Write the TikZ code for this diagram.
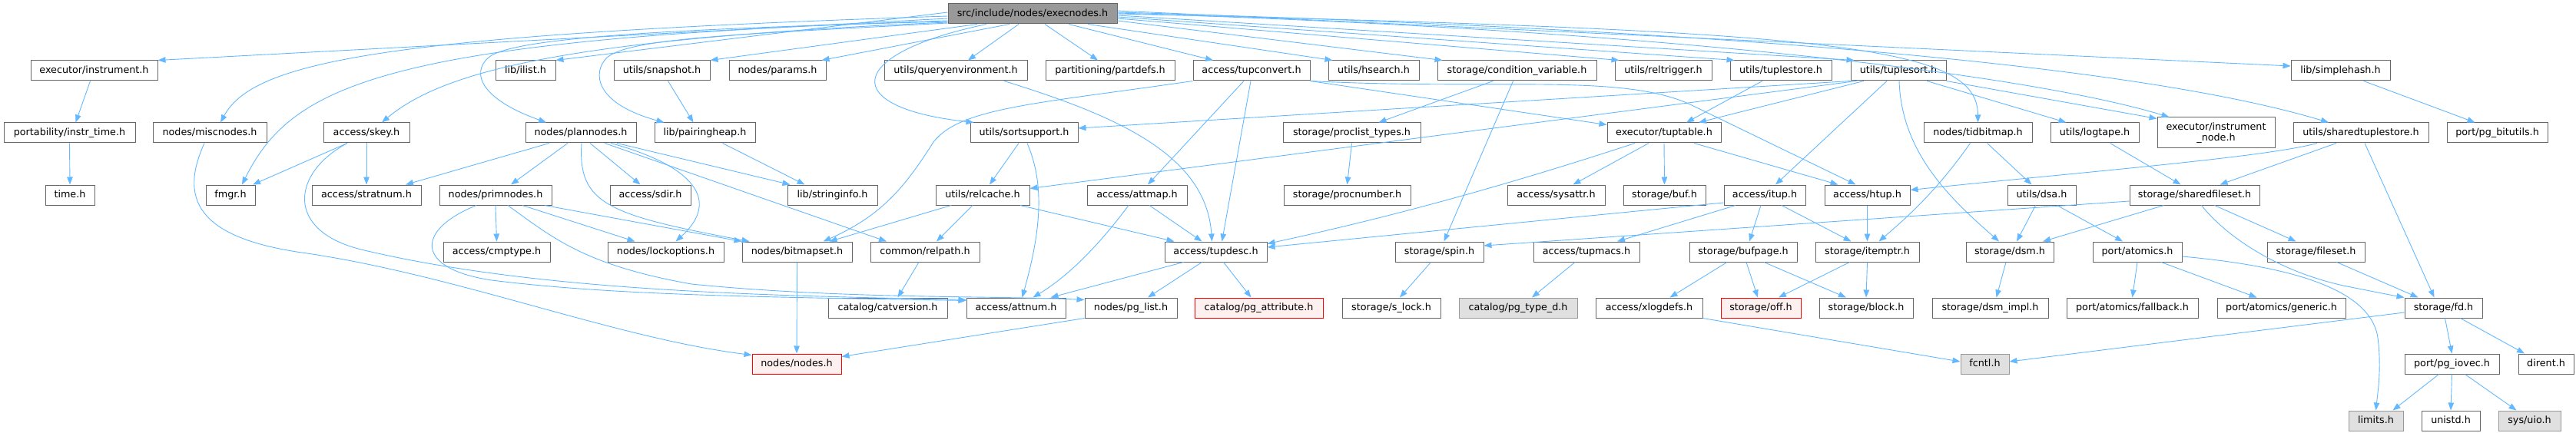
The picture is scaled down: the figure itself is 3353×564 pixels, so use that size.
\documentclass[tikz,border=0pt]{standalone}
\usepackage{fontspec}
\setmainfont{DejaVu Sans}
\usetikzlibrary{arrows.meta}
\definecolor{edgec}{HTML}{63B8FF}
\definecolor{bordc}{HTML}{666666}
\definecolor{grayb}{HTML}{999999}
\definecolor{grayf}{HTML}{E0E0E0}
\definecolor{redf}{HTML}{FFF0F0}
\definecolor{topf}{HTML}{999999}
\newcommand\nfs{\fontsize{12.75}{14.5}\selectfont}
\begin{document}
\begin{tikzpicture}[x=1pt,y=-1pt,
 nb/.style={draw=bordc, fill=white, line width=1pt, inner sep=0pt, font=\nfs},
 box/.style={nb, minimum height=26pt, text height=9.5pt, text depth=2.5pt},
 redbox/.style={box, draw=red, fill=redf},
 graybox/.style={box, draw=grayb, fill=grayf},
 topbox/.style={box, fill=topf},
 dep/.style={draw=edgec, line width=0.9pt, -{Triangle[length=10pt,width=7.5pt]}}
]
\useasboundingbox (0,0) rectangle (3353,564);
% row 0
\node[topbox, minimum width=220pt] (top) at (1344,18) {src/include/nodes/execnodes.h};
% row 1
\node[box, minimum width=165pt] (instr) at (122.5,92) {executor/instrument.h};
\node[box, minimum width=78pt] (ilist) at (684,92) {lib/ilist.h};
\node[box, minimum width=125pt] (snapshot) at (861.5,92) {utils/snapshot.h};
\node[box, minimum width=126pt] (params) at (1012,92) {nodes/params.h};
\node[box, minimum width=186pt] (queryenv) at (1244,92) {utils/queryenvironment.h};
\node[box, minimum width=168pt] (partdefs) at (1445,92) {partitioning/partdefs.h};
\node[box, minimum width=152pt] (tupconvert) at (1629,92) {access/tupconvert.h};
\node[box, minimum width=118pt] (hsearch) at (1788,92) {utils/hsearch.h};
\node[box, minimum width=207pt] (condvar) at (1974.5,92) {storage/condition\_variable.h};
\node[box, minimum width=126pt] (reltrigger) at (2165,92) {utils/reltrigger.h};
\node[box, minimum width=132pt] (tuplestore) at (2318,92) {utils/tuplestore.h};
\node[box, minimum width=124pt] (tuplesort) at (2471,92) {utils/tuplesort.h};
\node[box, minimum width=129pt] (simplehash) at (3046.5,92) {lib/simplehash.h};
% row 2
\node[box, minimum width=171pt] (instrtime) at (90.5,173) {portability/instr\_time.h};
\node[box, minimum width=148pt] (miscnodes) at (273,173) {nodes/miscnodes.h};
\node[box, minimum width=112pt] (skey) at (477,173) {access/skey.h};
\node[box, minimum width=144pt] (plannodes) at (756,173) {nodes/plannodes.h};
\node[box, minimum width=131pt] (pairingheap) at (917.5,173) {lib/pairingheap.h};
\node[box, minimum width=140pt] (sortsupport) at (1333,173) {utils/sortsupport.h};
\node[box, minimum width=179pt] (proclist) at (1759.5,173) {storage/proclist\_types.h};
\node[box, minimum width=148pt] (tuptable) at (2166,173) {executor/tuptable.h};
\node[box, minimum width=141pt] (tidbitmap) at (2574.5,173) {nodes/tidbitmap.h};
\node[box, minimum width=115pt] (logtape) at (2726.5,173) {utils/logtape.h};
\node[nb, minimum width=153pt, minimum height=40pt, align=center] (instrnode) at (2884.5,173) {executor/instrument\\\_node.h};
\node[box, minimum width=176pt] (sharedts) at (3073,173) {utils/sharedtuplestore.h};
\node[box, minimum width=131pt] (bitutils) at (3250.5,173) {port/pg\_bitutils.h};
% row 3
\node[box, minimum width=64pt] (timeh) at (91,254) {time.h};
\node[box, minimum width=64pt] (fmgr) at (300,254) {fmgr.h};
\node[box, minimum width=142pt] (stratnum) at (477,254) {access/stratnum.h};
\node[box, minimum width=146pt] (primnodes) at (645,254) {nodes/primnodes.h};
\node[box, minimum width=105pt] (sdir) at (846.5,254) {access/sdir.h};
\node[box, minimum width=117pt] (stringinfo) at (1083.5,254) {lib/stringinfo.h};
\node[box, minimum width=122pt] (relcache) at (1279,254) {utils/relcache.h};
\node[box, minimum width=130pt] (attmap) at (1480,254) {access/attmap.h};
\node[box, minimum width=165pt] (procnumber) at (1753.5,254) {storage/procnumber.h};
\node[box, minimum width=127pt] (sysattr) at (2025.5,254) {access/sysattr.h};
\node[box, minimum width=107pt] (buf) at (2166.5,254) {storage/buf.h};
\node[box, minimum width=106pt] (itup) at (2297,254) {access/itup.h};
\node[box, minimum width=111pt] (htup) at (2430.5,254) {access/htup.h};
\node[box, minimum width=89pt] (dsa) at (2657.5,254) {utils/dsa.h};
\node[box, minimum width=169pt] (sharedfs) at (2856.5,254) {storage/sharedfileset.h};
% row 4
\node[box, minimum width=139pt] (cmptype) at (646.5,328) {access/cmptype.h};
\node[box, minimum width=151pt] (lockopt) at (866.5,328) {nodes/lockoptions.h};
\node[box, minimum width=143pt] (bitmapset) at (1037.5,328) {nodes/bitmapset.h};
\node[box, minimum width=142pt] (relpath) at (1204,328) {common/relpath.h};
\node[box, minimum width=133pt] (tupdesc) at (1582.5,328) {access/tupdesc.h};
\node[box, minimum width=115pt] (spin) at (1873.5,328) {storage/spin.h};
\node[box, minimum width=138pt] (tupmacs) at (2065,328) {access/tupmacs.h};
\node[box, minimum width=140pt] (bufpage) at (2269,328) {storage/bufpage.h};
\node[box, minimum width=135pt] (itemptr) at (2430.5,328) {storage/itemptr.h};
\node[box, minimum width=114pt] (dsm) at (2616,328) {storage/dsm.h};
\node[box, minimum width=116pt] (atomics) at (2782,328) {port/atomics.h};
\node[box, minimum width=127pt] (fileset) at (3014.5,328) {storage/fileset.h};
% row 5
\node[box, minimum width=155pt] (catversion) at (1155.5,401) {catalog/catversion.h};
\node[box, minimum width=129pt] (attnum) at (1322.5,401) {access/attnum.h};
\node[box, minimum width=120pt] (pglist) at (1472,401) {nodes/pg\_list.h};
\node[redbox, minimum width=167pt] (pgattr) at (1638.5,401) {catalog/pg\_attribute.h};
\node[box, minimum width=128pt] (slock) at (1811,401) {storage/s\_lock.h};
\node[graybox, minimum width=154pt] (pgtyped) at (1976,401) {catalog/pg\_type\_d.h};
\node[box, minimum width=139pt] (xlogdefs) at (2146.5,401) {access/xlogdefs.h};
\node[redbox, minimum width=104pt] (off) at (2292,401) {storage/off.h};
\node[box, minimum width=122pt] (block) at (2429,401) {storage/block.h};
\node[box, minimum width=151pt] (dsmimpl) at (2590.5,401) {storage/dsm\_impl.h};
\node[box, minimum width=171pt] (fallback) at (2775.5,401) {port/atomics/fallback.h};
\node[box, minimum width=167pt] (generic) at (2969.5,401) {port/atomics/generic.h};
\node[box, minimum width=101pt] (fd) at (3180.5,401) {storage/fd.h};
% row 6
\node[redbox, minimum width=116pt] (nodesh) at (1037,474) {nodes/nodes.h};
\node[graybox, minimum width=63pt] (fcntl) at (2583.5,474) {fcntl.h};
\node[box, minimum width=123pt] (iovec) at (3191.5,474) {port/pg\_iovec.h};
\node[box, minimum width=72pt] (dirent) at (3314,474) {dirent.h};
% row 7
\node[graybox, minimum width=71pt] (limits) at (3092.5,548) {limits.h};
\node[box, minimum width=76pt] (unistd) at (3190,548) {unistd.h};
\node[graybox, minimum width=81pt] (uio) at (3292.5,548) {sys/uio.h};

% edges from the top node
\draw[dep] ([yshift=-6]top.west) -- (instr.north east);
\draw[dep] ([yshift=-3]top.west) .. controls (500,45) and (330,80) .. ([xshift=14]miscnodes.north);
\draw[dep] ([yshift=-9]top.west) .. controls (500,50) and (380,110) .. ([xshift=15]fmgr.north);
\draw[dep] ([yshift=-11]top.west) .. controls (750,50) and (580,90) .. ([xshift=20]skey.north);
\draw[dep] ([yshift=2]top.west) -- (ilist.north east);
\draw[dep] ([xshift=-72]top.south) -- (snapshot.north east);
\draw[dep] ([xshift=-30]top.south) -- ([xshift=-6]params.north east);
\draw[dep] ([yshift=-10]top.west) .. controls (850,38) and (680,50) .. (640,72) .. controls (615,88) and (615,125) .. ([xshift=-45]plannodes.north);
\draw[dep] ([yshift=-12]top.west) .. controls (950,45) and (820,50) .. (790,75) .. controls (770,95) and (775,135) .. ([xshift=-53]pairingheap.north);
\draw[dep] ([xshift=-18]top.south) -- ([xshift=16]queryenv.north);
\draw[dep] ([xshift=16]top.south) -- ([xshift=-16]partdefs.north);
\draw[dep] ([xshift=47]top.south) -- ([xshift=-50]tupconvert.north);
\draw[dep] ([xshift=-60]top.south) .. controls (1100,70) and (1090,140) .. ([xshift=5]sortsupport.north west);
\draw[dep] ([xshift=72]top.south) -- ([xshift=6]hsearch.north west);
\draw[dep] ([yshift=-9]top.east) -- ([xshift=7]condvar.north west);
\draw[dep] ([yshift=-6]top.east) -- ([xshift=6]reltrigger.north west);
\draw[dep] ([yshift=-4]top.east) -- ([xshift=6]tuplestore.north west);
\draw[dep] ([yshift=-2]top.east) -- ([xshift=5]tuplesort.north west);
\draw[dep] (top.east) .. controls (2400,40) and (2574,60) .. (tidbitmap.north);
\draw[dep] ([yshift=4]top.east) -- ([yshift=6]simplehash.west);
\draw[dep] ([yshift=2]top.east) .. controls (2300,40) and (2800,90) .. ([xshift=-42]sharedts.north);
\draw[dep] ([yshift=1]top.east) .. controls (2200,40) and (2650,100) .. ([xshift=-61]instrnode.north);

% left part
\draw[dep] ([xshift=-5]instr.south) -- ([xshift=8]instrtime.north);
\draw[dep] (instrtime.south) -- (timeh.north);
\draw[dep] ([xshift=-7]miscnodes.south) .. controls (235,255) and (250,310) .. (400,330) .. controls (600,360) and (800,440) .. ([yshift=-2]nodesh.north west);
\draw[dep] ([xshift=-25]skey.south) -- ([xshift=29]fmgr.north);
\draw[dep] (skey.south) -- (stratnum.north);
\draw[dep] ([xshift=-25]skey.south) .. controls (380,225) and (370,300) .. (470,325) .. controls (700,380) and (1000,385) .. ([yshift=-3]attnum.north west);
\draw[dep] ([xshift=-25]primnodes.south) .. controls (540,300) and (540,350) .. (640,365) .. controls (800,385) and (1000,387) .. ([yshift=-4]attnum.north west);
\draw[dep] ([xshift=16]primnodes.south) .. controls (720,310) and (760,345) .. (900,370) .. controls (1100,390) and (1300,385) .. ([yshift=-3]pglist.north west);
\draw[dep] (primnodes.south) -- (cmptype.north);
\draw[dep] ([xshift=35]primnodes.south) -- ([xshift=-40]lockopt.north);
\draw[dep] ([xshift=64]primnodes.south) -- (bitmapset.north west);
\draw[dep] ([xshift=-41]plannodes.south) -- ([xshift=51]stratnum.north);
\draw[dep] ([xshift=-17]plannodes.south) -- ([xshift=20]primnodes.north);
\draw[dep] ([xshift=12]plannodes.south) -- ([xshift=-13]sdir.north);
\draw[dep] ([xshift=47]plannodes.south) -- ([xshift=-55]stringinfo.north);
\draw[dep] ([xshift=39]plannodes.south) .. controls (900,215) and (940,260) .. ([xshift=13]lockopt.north);
\draw[dep] ([xshift=1]plannodes.south) .. controls (752,265) and (790,280) .. ([xshift=-62]bitmapset.north);
\draw[dep] ([xshift=31]plannodes.south) -- ([xshift=-50]relpath.north);
\draw[dep] ([xshift=8]snapshot.south) -- ([xshift=-15]pairingheap.north);
\draw[dep] ([xshift=23]pairingheap.south) -- ([xshift=-36]stringinfo.north);
\draw[dep] (bitmapset.south) -- (nodesh.north);

% middle part
\draw[dep] (tupconvert.south west) .. controls (1350,135) and (1250,140) .. (1215,185) .. controls (1180,240) and (1150,280) .. ([xshift=34]bitmapset.north);
\draw[dep] ([xshift=-10]tupconvert.south) -- ([xshift=14]attmap.north);
\draw[dep] ([xshift=-1]tupconvert.south) -- ([xshift=8]tupdesc.north);
\draw[dep] (tupconvert.south east) -- ([yshift=-3]tuptable.north west);
\draw[dep] (tupconvert.south east) .. controls (1950,118) and (2110,95) .. (2200,136) -- ([xshift=-15]htup.north);
\draw[dep] ([xshift=63]queryenv.south) .. controls (1450,150) and (1570,200) .. ([xshift=-5]tupdesc.north);
\draw[dep] (tuplesort.south west) -- ([yshift=6]sortsupport.east);
\draw[dep] ([xshift=8]tuplesort.south west) -- ([yshift=-5]relcache.north east);
\draw[dep] ([xshift=-45]tuplesort.south) -- ([xshift=45]tuptable.north);
\draw[dep] ([xshift=-24]tuplestore.south) -- ([xshift=29]tuptable.north);
\draw[dep] ([xshift=-15]tuplesort.south) -- ([xshift=14]itup.north);
\draw[dep] ([xshift=1]tuplesort.south) .. controls (2475,200) and (2540,260) .. ([xshift=-14]dsm.north);
\draw[dep] ([xshift=37]tuplesort.south) -- ([xshift=-37]logtape.north);
\draw[dep] (tuplesort.south east) -- ([yshift=-2]instrnode.north west);
\draw[dep] ([xshift=-31]condvar.south) -- ([xshift=35]proclist.north);
\draw[dep] ([xshift=-5]condvar.south) -- ([xshift=6]spin.north);
\draw[dep] (proclist.south) -- (procnumber.north);
\draw[dep] ([xshift=-38]tuptable.south) .. controls (1950,245) and (1800,285) .. ([yshift=-3]tupdesc.north east);
\draw[dep] ([xshift=-20]tuptable.south) -- ([xshift=22]sysattr.north);
\draw[dep] (tuptable.south) -- (buf.north);
\draw[dep] ([xshift=39]tuptable.south) -- ([xshift=-38]htup.north);
\draw[dep] ([yshift=-10]itup.west) -- ([yshift=6]tupdesc.east);
\draw[dep] ([xshift=-38]itup.south) -- ([xshift=40]tupmacs.north);
\draw[dep] ([xshift=-5]itup.south) -- ([xshift=8]bufpage.north);
\draw[dep] ([xshift=22]itup.south) -- ([xshift=-21]itemptr.north);
\draw[dep] (htup.south) -- (itemptr.north);
\draw[dep] ([xshift=-10]tidbitmap.south) .. controls (2520,250) and (2480,285) .. ([xshift=15]itemptr.north);
\draw[dep] ([xshift=12]tidbitmap.south) -- ([xshift=-13]dsa.north);
\draw[dep] ([xshift=20]logtape.south) -- ([xshift=-18]sharedfs.north);
\draw[dep] ([xshift=-41]relcache.south) -- ([xshift=42]bitmapset.north);
\draw[dep] ([xshift=-13]relcache.south) -- ([xshift=15]relpath.north);
\draw[dep] ([xshift=49]relcache.south) -- ([xshift=-54]tupdesc.north);
\draw[dep] ([xshift=-7]sortsupport.south) -- ([xshift=9]relcache.north);
\draw[dep] ([xshift=4]sortsupport.south) .. controls (1360,240) and (1355,300) .. ([xshift=8]attnum.north);
\draw[dep] ([xshift=-11]attmap.south) .. controls (1430,320) and (1390,360) .. ([xshift=22]attnum.north);
\draw[dep] ([xshift=16]attmap.south) -- ([xshift=-18]tupdesc.north);
\draw[dep] ([xshift=-42]tupdesc.south) -- ([xshift=45]attnum.north);
\draw[dep] ([xshift=-18]tupdesc.south) -- ([xshift=22]pglist.north);
\draw[dep] ([xshift=10]tupdesc.south) -- ([xshift=-10]pgattr.north);
\draw[dep] (pglist.south west) -- ([yshift=-4]nodesh.north east);
\draw[dep] ([xshift=-8]relpath.south) -- ([xshift=13]catversion.north);
\draw[dep] ([xshift=-11]spin.south) -- ([xshift=11]slock.north);
\draw[dep] ([xshift=-15]tupmacs.south) -- ([xshift=18]pgtyped.north);
\draw[dep] ([xshift=-23]itemptr.south) -- ([xshift=23]off.north);
\draw[dep] (itemptr.south) -- (block.north);
\draw[dep] ([xshift=4]bufpage.south) -- ([xshift=-4]off.north);
\draw[dep] ([xshift=27]bufpage.south) -- ([xshift=-26]block.north);
\draw[dep] ([xshift=-21]bufpage.south) -- ([xshift=27]xlogdefs.north);
\draw[dep] (xlogdefs.south east) -- ([yshift=3]fcntl.west);

% right part
\draw[dep] ([xshift=-57]sharedts.south) .. controls (2950,205) and (2700,225) .. ([yshift=-7]htup.north east);
\draw[dep] ([xshift=-32]sharedts.south) -- ([xshift=33]sharedfs.north);
\draw[dep] ([xshift=5]sharedts.south) -- ([xshift=-12]fd.north);
\draw[dep] ([xshift=30]simplehash.south) -- ([xshift=-29]bitutils.north);
\draw[dep] ([xshift=-8]dsa.south) -- ([xshift=9]dsm.north);
\draw[dep] ([xshift=20]dsa.south) -- ([xshift=-19]atomics.north);
\draw[dep] ([xshift=-40]sharedfs.south) -- ([xshift=43]dsm.north);
\draw[dep] ([yshift=-8]sharedfs.west) -- ([yshift=8]spin.east);
\draw[dep] ([xshift=26]sharedfs.south) -- ([xshift=-26]fileset.north);
\draw[dep] ([xshift=9]sharedfs.south) .. controls (2895,305) and (2960,352) .. (3050,372) .. controls (3080,378) and (3105,383) .. (fd.north west);
\draw[dep] ([yshift=-6]atomics.east) .. controls (2960,345) and (3085,370) .. (3095,440) .. controls (3100,480) and (3095,510) .. (limits.north);
\draw[dep] ([xshift=27]fileset.south) -- ([xshift=-33]fd.north);
\draw[dep] ([yshift=-6]fd.west) -- ([yshift=3]fcntl.east);
\draw[dep] ([xshift=2]fd.south) -- (iovec.north);
\draw[dep] ([xshift=22]fd.south) -- ([xshift=-28]dirent.north);
\draw[dep] ([xshift=-17]iovec.south) -- ([xshift=22]limits.north);
\draw[dep] (iovec.south) -- (unistd.north);
\draw[dep] ([xshift=17]iovec.south) -- ([xshift=-17]uio.north);
\draw[dep] ([xshift=-5]dsm.south) -- ([xshift=8]dsmimpl.north);
\draw[dep] (atomics.south) -- (fallback.north);
\draw[dep] ([xshift=31]atomics.south) -- ([xshift=-32]generic.north);
\end{tikzpicture}
\end{document}
